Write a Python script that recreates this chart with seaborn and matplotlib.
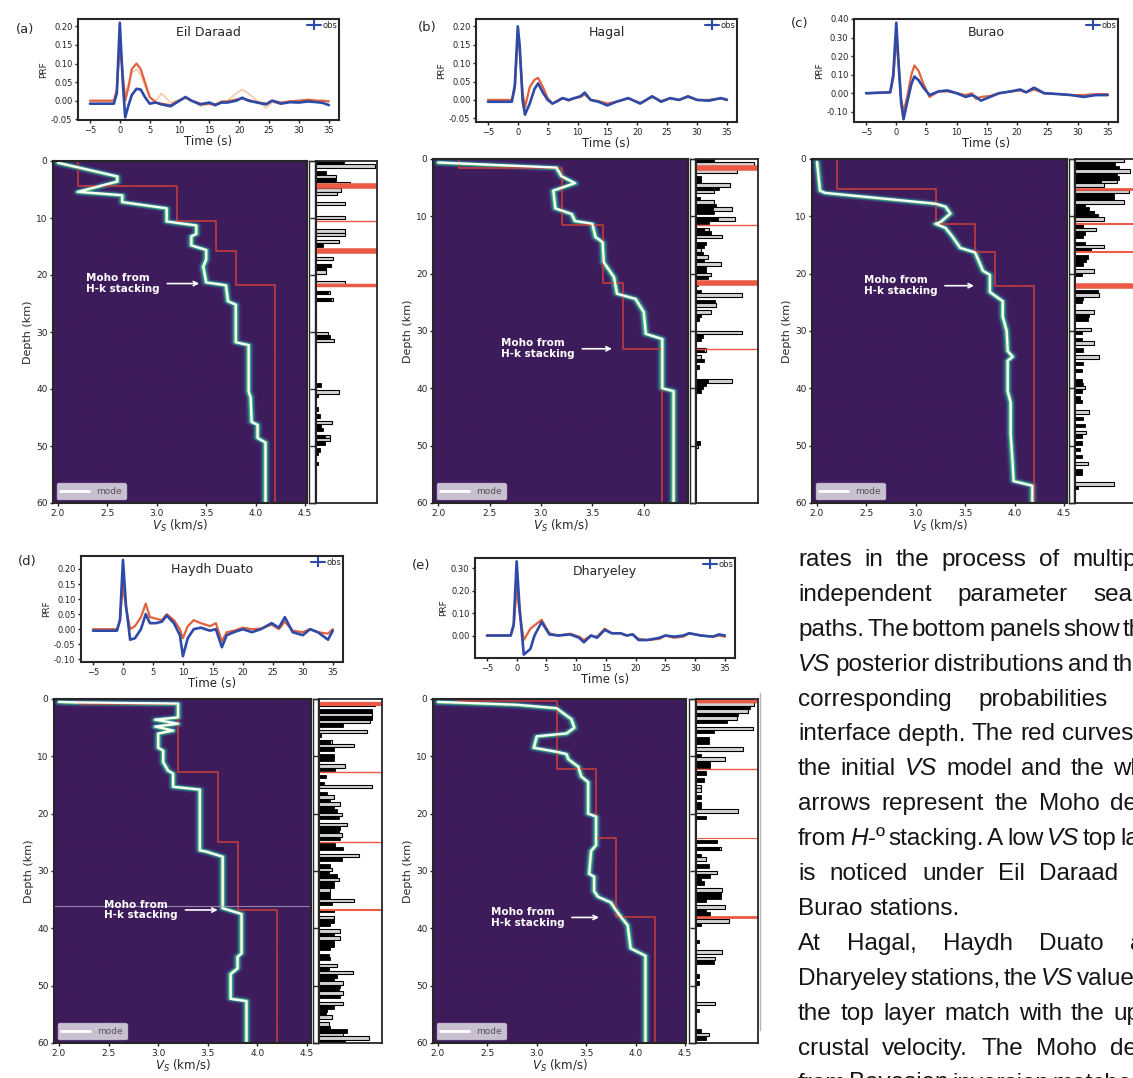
import numpy as np
import pandas as pd
import matplotlib
matplotlib.use("Agg")
import matplotlib.pyplot as plt
import seaborn as sns
from matplotlib.lines import Line2D
from matplotlib.colors import LinearSegmentedColormap
from matplotlib.ticker import FormatStrFormatter

# ---------------------------------------------------------------- data
# (a) Eil Daraad
ed_time = [-5, -1.0, -0.5, 0.0, 0.5, 0.9, 1.5, 2.0, 2.8, 3.5, 4.2, 5.0, 6.0, 7.0, 8.5, 9.5, 11.0, 12.0,
           13.5, 15.0, 16.0, 17.0, 18.0, 19.5, 20.5, 21.5, 23.0, 24.5, 25.5, 27.0, 28.5, 30.0, 31.5, 33.0, 34.0, 35.0]
ed_obs = [-0.008, -0.008, 0.02, 0.21, 0.05, -0.045, -0.01, 0.015, 0.032, 0.03, 0.01, -0.008, -0.005, -0.01,
          -0.015, -0.005, 0.01, 0.0, -0.01, -0.005, -0.012, -0.005, -0.005, 0.0, 0.008, 0.0, -0.005, -0.01,
          0.0, -0.008, -0.004, -0.005, -0.002, -0.004, -0.006, -0.012]
ed_pred = [0.0, 0.0, 0.03, 0.16, 0.07, 0.0, 0.04, 0.085, 0.10, 0.085, 0.05, 0.01, -0.005, -0.008, -0.012,
           -0.003, 0.008, 0.0, -0.008, -0.008, -0.01, -0.003, -0.002, 0.003, 0.006, 0.002, -0.004, -0.008,
           0.0, -0.005, -0.002, 0.0, 0.002, 0.0, 0.0, -0.002]
ed_alt = [0.0, 0.0, 0.03, 0.14, 0.07, 0.02, 0.05, 0.075, 0.085, 0.07, 0.04, 0.01, 0.0, 0.02, -0.005, 0.0,
          0.01, 0.0, -0.015, -0.01, -0.015, 0.0, 0.0, 0.02, 0.03, 0.02, 0.0, -0.02, -0.005, -0.01, 0.0, 0.0,
          0.005, 0.0, 0.0, 0.0]
ed_mode_vs = [2.0, 2.6, 2.6, 2.2, 2.65, 2.65, 3.1, 3.1, 3.4, 3.4, 3.35, 3.35, 3.5, 3.5, 3.47, 3.5, 3.7,
              3.72, 3.8, 3.8, 3.93, 3.93, 3.95, 3.96, 4.02, 4.02, 4.1, 4.1]
ed_mode_dep = [0.3, 2.7, 3.6, 5.4, 6.0, 7.2, 8.3, 10.6, 11.3, 12.8, 13.2, 14.8, 15.6, 17.3, 18.5, 21.3,
               21.8, 24.6, 25.2, 31.8, 32.3, 40.5, 41.5, 45.8, 46.3, 48.6, 49.4, 60.0]
ed_init_bounds = [4.4, 10.6, 15.8, 21.7]
ed_init_vs = [2.2, 3.2, 3.6, 3.8, 4.2]
ed_iface_lw = [4.0, 1.0, 4.0, 2.5]
ed_moho = (21.5, 3.03, 3.43)
ed_gray_dep = [1.0, 2.9, 3.8, 5.3, 5.9, 7.2, 10.0, 12.1, 12.7, 14.0, 17.0, 18.1, 19.6, 21.4, 23.0, 24.3,
               30.0, 31.6, 40.4, 45.7, 48.0, 48.7]
ed_gray_len = [0.99, 0.34, 0.58, 0.42, 0.36, 0.49, 0.49, 0.49, 0.49, 0.38, 0.28, 0.26, 0.17, 0.49, 0.23,
               0.28, 0.20, 0.31, 0.39, 0.27, 0.23, 0.23]
ed_black_dep = [0.4, 2.0, 3.5, 14.6, 18.1, 18.7, 23.0, 24.0, 31.0, 39.5, 41.2, 43.6, 44.8, 46.5, 47.1,
                48.0, 49.5, 50.4, 51.2, 53.0]
ed_black_len = [0.47, 0.17, 0.34, 0.12, 0.23, 0.17, 0.20, 0.26, 0.23, 0.09, 0.04, 0.03, 0.07, 0.09, 0.12,
                0.15, 0.15, 0.07, 0.04, 0.03]

# (b) Hagal
hg_time = [-5, -1.0, -0.5, 0.0, 0.3, 0.8, 1.2, 2.0, 2.8, 3.4, 4.2, 5.0, 5.8, 6.8, 7.5, 8.5, 9.5, 10.5,
           11.2, 12.2, 13.5, 15.0, 16.5, 18.5, 20.5, 22.5, 24.0, 25.5, 27.0, 28.5, 30.0, 32.0, 34.0, 35.0]
hg_obs = [-0.005, -0.005, 0.04, 0.20, 0.15, 0.0, -0.04, -0.01, 0.03, 0.045, 0.02, 0.0, -0.01, -0.002,
          0.005, 0.0, 0.005, 0.01, 0.02, 0.0, -0.005, -0.015, -0.005, 0.005, -0.01, 0.01, -0.005, 0.005,
          0.0, 0.01, 0.0, -0.002, 0.005, 0.0]
hg_pred = [0.0, 0.0, 0.03, 0.18, 0.14, 0.02, -0.02, 0.035, 0.055, 0.06, 0.035, 0.005, -0.01, 0.0, 0.005,
           -0.002, 0.005, 0.008, 0.015, 0.0, -0.003, -0.01, -0.005, 0.004, -0.008, 0.008, -0.003, 0.004,
           0.0, 0.008, 0.0, 0.0, 0.004, 0.002]
hg_mode_vs = [2.0, 3.15, 3.2, 3.33, 3.12, 3.14, 3.3, 3.33, 3.5, 3.53, 3.6, 3.61, 3.71, 3.74, 3.92, 4.0,
              4.02, 4.18, 4.18, 4.29, 4.29]
hg_mode_dep = [0.6, 1.5, 3.0, 4.2, 5.5, 8.6, 9.6, 10.8, 11.3, 13.6, 14.5, 18.0, 20.6, 23.5, 24.4, 26.7,
               30.5, 31.4, 40.0, 40.5, 60.0]
hg_init_bounds = [1.5, 11.5, 21.7, 33.1]
hg_init_vs = [2.2, 3.2, 3.6, 3.8, 4.18]
hg_iface_lw = [4.0, 1.0, 4.0, 1.0]
hg_moho = (33.1, 3.33, 3.69)
hg_gray_dep = [0.8, 2.3, 4.4, 5.7, 7.3, 8.4, 10.2, 12.5, 13.7, 15.7, 16.9, 18.3, 20.3, 23.8, 25.6, 26.7,
               30.2, 33.4, 34.3, 38.9, 50.3]
hg_gray_len = [0.97, 0.68, 0.57, 0.30, 0.30, 0.60, 0.65, 0.22, 0.44, 0.09, 0.20, 0.41, 0.25, 0.76, 0.33,
               0.25, 0.76, 0.17, 0.09, 0.60, 0.04]
hg_black_dep = [0.2, 3.2, 3.8, 5.1, 6.7, 7.9, 8.7, 9.3, 10.7, 11.2, 12.0, 13.1, 14.5, 15.1, 16.3, 17.4,
                18.9, 19.5, 20.9, 22.1, 23.3, 24.7, 25.1, 27.2, 27.9, 31.1, 31.7, 33.0, 34.8, 36.0, 38.4,
                39.4, 39.8, 40.7, 49.4]
hg_black_len = [0.30, 0.09, 0.09, 0.38, 0.06, 0.33, 0.28, 0.30, 0.36, 0.22, 0.14, 0.25, 0.17, 0.14, 0.12,
                0.14, 0.17, 0.17, 0.20, 0.04, 0.09, 0.14, 0.17, 0.09, 0.05, 0.12, 0.09, 0.14, 0.14, 0.05,
                0.20, 0.17, 0.12, 0.09, 0.06]

# (c) Burao
bu_time = [-5, -1.0, -0.5, 0.0, 0.4, 0.8, 1.2, 1.8, 2.5, 3.0, 3.7, 4.5, 5.5, 7.0, 8.5, 10.0, 11.5, 12.5,
           13.2, 14.0, 15.5, 17.0, 19.0, 20.5, 21.5, 22.8, 24.5, 27.0, 29.0, 31.0, 33.0, 35.0]
bu_obs = [0.0, 0.005, 0.10, 0.38, 0.15, -0.05, -0.14, -0.05, 0.05, 0.09, 0.07, 0.03, -0.01, 0.01, 0.015,
          0.0, -0.02, -0.01, -0.02, -0.04, -0.02, 0.0, 0.01, 0.02, 0.005, 0.03, 0.0, -0.005, -0.01, -0.02,
          -0.01, -0.01]
bu_pred = [0.0, 0.005, 0.08, 0.30, 0.15, -0.03, -0.10, -0.02, 0.10, 0.15, 0.12, 0.05, -0.02, 0.01, 0.01,
           0.0, -0.01, 0.0, -0.03, -0.02, -0.015, 0.0, 0.01, 0.015, 0.005, 0.02, 0.0, -0.005, -0.01, -0.01,
           -0.005, -0.005]
bu_mode_vs = [2.0, 2.03, 2.08, 3.2, 3.3, 3.35, 3.25, 3.2, 3.3, 3.37, 3.45, 3.6, 3.63, 3.68, 3.75, 3.75,
              3.88, 3.88, 3.92, 3.93, 3.98, 3.93, 3.93, 3.96, 3.96, 3.98, 3.99, 4.18, 4.18]
bu_mode_dep = [0.5, 5.5, 5.9, 7.8, 8.3, 9.5, 11.0, 11.3, 12.0, 13.5, 15.5, 16.3, 17.5, 19.5, 20.2, 23.2,
               24.8, 27.5, 30.0, 33.5, 34.5, 35.2, 40.5, 42.5, 48.0, 53.0, 56.2, 57.0, 60.0]
bu_init_bounds = [5.2, 11.4, 16.3, 22.1]
bu_init_vs = [2.2, 3.2, 3.6, 3.8, 4.2]
bu_iface_lw = [2.0, 1.5, 1.5, 4.0]
bu_moho = (22.1, 3.22, 3.59)
bu_gray_dep = [0.3, 2.0, 3.8, 4.7, 5.7, 7.3, 9.0, 10.5, 12.2, 15.4, 19.2, 23.6, 26.5, 29.4, 32.3, 34.4,
               39.6, 44.3, 47.5, 53.3, 56.5]
bu_gray_len = [0.81, 0.91, 0.70, 0.48, 0.89, 0.81, 0.32, 0.48, 0.35, 0.48, 0.32, 0.40, 0.32, 0.27, 0.32,
               0.40, 0.16, 0.24, 0.19, 0.22, 0.65]
bu_black_dep = [0.9, 1.5, 2.6, 3.2, 4.1, 6.3, 6.9, 7.9, 8.4, 9.3, 9.9, 11.6, 13.1, 13.7, 14.6, 15.9, 16.9,
                17.5, 18.3, 19.8, 23.0, 24.2, 25.0, 27.4, 28.0, 30.3, 31.2, 33.2, 35.5, 36.7, 38.4, 39.0,
                40.5, 41.4, 42.5, 45.4, 46.3, 48.3, 49.5, 50.7, 51.8, 54.2, 55.0, 57.4]
bu_black_len = [0.67, 0.73, 0.70, 0.73, 0.43, 0.65, 0.65, 0.16, 0.24, 0.30, 0.38, 0.13, 0.16, 0.13, 0.16,
                0.27, 0.22, 0.19, 0.13, 0.11, 0.38, 0.13, 0.11, 0.24, 0.22, 0.11, 0.11, 0.13, 0.13, 0.11,
                0.11, 0.13, 0.11, 0.08, 0.11, 0.13, 0.16, 0.11, 0.11, 0.08, 0.11, 0.11, 0.11, 0.05]

# (d) Haydh Duato
hd_time = [-5, -1.0, -0.5, 0.0, 0.5, 1.2, 2.0, 3.0, 3.8, 4.5, 5.5, 6.5, 7.3, 8.5, 9.5, 10.0, 10.8, 11.8,
           13.0, 14.5, 15.5, 16.5, 17.3, 18.5, 20.0, 21.5, 23.0, 24.8, 26.0, 27.0, 28.3, 30.0, 31.2, 32.5,
           34.2, 35.0]
hd_obs = [-0.005, -0.005, 0.03, 0.23, 0.08, -0.035, -0.03, 0.0, 0.05, 0.02, 0.02, 0.025, 0.045, 0.02,
          -0.02, -0.09, -0.03, 0.0, 0.005, -0.005, 0.0, -0.06, -0.02, -0.01, 0.0, -0.01, 0.0, 0.02, 0.005,
          0.04, -0.01, -0.02, 0.0, -0.01, -0.035, -0.005]
hd_pred = [0.0, 0.0, 0.03, 0.15, 0.07, 0.0, 0.01, 0.04, 0.085, 0.04, 0.035, 0.03, 0.05, 0.03, 0.0, -0.03,
           0.01, 0.03, 0.02, 0.01, 0.02, -0.04, -0.01, -0.005, 0.005, 0.0, 0.002, 0.015, 0.0, 0.025, -0.005,
           -0.01, 0.0, -0.01, -0.015, 0.0]
hd_mode_vs = [2.0, 2.2, 3.2, 3.2, 2.97, 3.2, 2.97, 3.15, 3.0, 3.0, 3.05, 3.05, 3.1, 3.15, 3.15, 3.42, 3.42,
              3.48, 3.65, 3.65, 3.84, 3.84, 3.8, 3.8, 3.73, 3.73, 3.89, 3.89]
hd_mode_dep = [0.5, 0.6, 0.8, 3.2, 3.6, 4.3, 4.8, 5.5, 6.0, 8.5, 9.0, 11.0, 12.5, 13.0, 15.3, 15.8, 26.4,
               26.6, 27.5, 36.5, 37.5, 44.4, 45.0, 47.0, 48.0, 52.3, 52.7, 60.0]
hd_init_bounds = [0.8, 12.7, 24.9, 36.8]
hd_init_vs = [2.2, 3.2, 3.6, 3.8, 4.2]
hd_iface_lw = [3.0, 1.0, 1.0, 1.5]
hd_moho = (36.8, 3.2, 3.6)
hd_gray_dep = [1.0, 2.5, 3.7, 5.4, 7.2, 8.3, 11.4, 15.3, 17.1, 18.2, 20.0, 21.7, 23.5, 27.0, 29.9, 31.6,
               33.4, 35.1, 38.0, 40.3, 41.5, 46.2, 47.6, 49.4, 51.1, 52.9, 55.5, 56.6, 58.4, 59.3]
hd_gray_len = [0.92, 0.87, 0.84, 0.79, 0.21, 0.58, 0.42, 0.87, 0.24, 0.34, 0.37, 0.45, 0.37, 0.66, 0.21,
               0.32, 0.18, 0.58, 0.24, 0.34, 0.34, 0.29, 0.55, 0.39, 0.39, 0.39, 0.21, 0.16, 0.39, 0.82]
hd_black_dep = [1.9, 3.1, 4.2, 6.0, 7.7, 8.9, 9.8, 10.7, 12.0, 13.6, 14.4, 16.2, 17.7, 18.8, 19.4, 20.6,
                22.4, 23.0, 24.3, 25.5, 26.1, 27.6, 28.1, 29.0, 30.5, 31.0, 32.2, 32.8, 34.0, 34.6, 35.7,
                37.1, 38.6, 39.2, 40.9, 42.1, 42.7, 43.5, 44.4, 45.3, 46.8, 48.2, 48.8, 50.0, 50.6, 51.7,
                53.6, 54.2, 55.0, 57.5, 58.0, 59.9]
hd_black_len = [0.87, 0.86, 0.39, 0.04, 0.18, 0.24, 0.24, 0.24, 0.26, 0.11, 0.08, 0.13, 0.18, 0.24, 0.29,
                0.32, 0.34, 0.32, 0.34, 0.26, 0.39, 0.29, 0.08, 0.18, 0.16, 0.29, 0.24, 0.24, 0.18, 0.18,
                0.21, 0.24, 0.24, 0.18, 0.24, 0.24, 0.24, 0.18, 0.16, 0.18, 0.16, 0.29, 0.24, 0.34, 0.32,
                0.34, 0.24, 0.13, 0.11, 0.18, 0.45, 0.42]

# (e) Dharyeley
dh_time = [-5, -1.0, -0.5, 0.0, 0.5, 1.2, 2.3, 3.0, 4.2, 5.5, 7.0, 9.0, 10.5, 11.3, 12.5, 13.5, 14.8, 16.0,
           17.5, 18.5, 19.5, 20.5, 22.0, 24.0, 25.0, 26.5, 28.0, 29.0, 31.0, 33.0, 34.0, 35.0]
dh_obs = [0.0, 0.0, 0.05, 0.33, 0.12, -0.085, -0.06, 0.0, 0.06, 0.005, 0.0, 0.005, -0.01, -0.03, 0.0,
          -0.01, 0.025, 0.01, 0.01, 0.0, 0.005, -0.02, -0.02, -0.01, 0.0, -0.005, 0.0, 0.01, 0.0, -0.005,
          0.005, 0.0]
dh_pred = [0.0, 0.0, 0.04, 0.21, 0.1, -0.02, 0.03, 0.045, 0.07, 0.01, 0.0, 0.008, -0.005, -0.02, 0.0,
           -0.005, 0.03, 0.01, 0.01, 0.0, 0.005, -0.015, -0.02, -0.015, 0.0, -0.01, -0.005, 0.01, 0.0,
           -0.005, 0.0, -0.005]
dh_mode_vs = [2.0, 2.8, 3.2, 3.35, 3.38, 3.3, 3.0, 2.97, 3.2, 3.3, 3.32, 3.42, 3.45, 3.52, 3.52, 3.6, 3.6,
              3.55, 3.53, 3.58, 3.58, 3.62, 3.75, 3.82, 3.92, 3.95, 4.1, 4.1]
dh_mode_dep = [0.5, 1.0, 1.6, 3.5, 5.0, 6.0, 6.5, 8.5, 9.2, 9.6, 10.5, 11.8, 13.5, 14.5, 20.0, 20.5, 25.5,
               26.5, 30.5, 31.0, 33.5, 34.5, 35.5, 37.3, 39.5, 43.5, 44.8, 60.0]
dh_init_bounds = [0.3, 12.2, 24.3, 38.1]
dh_init_vs = [2.2, 3.2, 3.6, 3.8, 4.2]
dh_iface_lw = [2.5, 1.0, 0.8, 2.0]
dh_moho = (38.1, 3.28, 3.63)
dh_gray_dep = [0.9, 2.3, 3.5, 5.2, 8.4, 10.5, 15.1, 16.0, 19.5, 25.9, 27.7, 30.0, 33.2, 36.4, 38.4, 44.3,
               45.4, 53.3, 58.5]
dh_gray_len = [0.97, 0.86, 0.68, 0.95, 0.78, 0.49, 0.08, 0.08, 0.70, 0.41, 0.16, 0.35, 0.43, 0.49, 0.54,
               0.43, 0.32, 0.32, 0.22]
dh_black_dep = [0.3, 1.7, 2.9, 4.1, 5.8, 6.7, 7.6, 9.6, 11.1, 11.9, 13.1, 14.0, 16.9, 18.1, 18.9, 20.4,
                25.0, 26.2, 27.1, 29.1, 30.6, 31.2, 32.0, 33.8, 34.4, 35.2, 36.9, 37.3, 39.0, 42.5, 45.9,
                48.0, 49.2, 54.2, 57.7, 59.1]
dh_black_len = [0.95, 0.89, 0.70, 0.51, 0.30, 0.22, 0.22, 0.08, 0.24, 0.24, 0.16, 0.14, 0.08, 0.08, 0.08,
                0.16, 0.35, 0.38, 0.08, 0.22, 0.24, 0.08, 0.14, 0.41, 0.41, 0.16, 0.16, 0.24, 0.08, 0.05,
                0.30, 0.05, 0.05, 0.05, 0.08, 0.16]

prf_ticks_small = [-0.05, 0.0, 0.05, 0.10, 0.15, 0.20]
prf_ticks_burao = [-0.10, 0.0, 0.10, 0.20, 0.30, 0.40]
prf_ticks_hd = [-0.10, -0.05, 0.0, 0.05, 0.10, 0.15, 0.20]
prf_ticks_dh = [0.0, 0.10, 0.20, 0.30]

# ---------------------------------------------------------------- layout
W, H = 1133, 1078
sns.set_theme(style="ticks")
plt.rcParams["font.family"] = ["DejaVu Sans"]
plt.rcParams["axes.linewidth"] = 1.5

BLUE = "#2d4aa8"
RED = "#e2623c"
RED_INIT = "#cc3f3a"
RED_HIST = "#ec5a45"
cmap = LinearSegmentedColormap.from_list(
    "post", ["#3e1c5b", "#3b4f8c", "#23a186", "#7ad151", "#fde725"])

fig = plt.figure(figsize=(W / 100, H / 100), dpi=100)


def rect(l, t, r, b):
    return [l / W, 1 - b / H, (r - l) / W, (b - t) / H]


def step_profile(bounds, vs):
    d, v = [0.0], [vs[0]]
    for b, v0, v1 in zip(bounds, vs[:-1], vs[1:]):
        d += [b, b]
        v += [v0, v1]
    d.append(60.0)
    v.append(vs[-1])
    return v, d


def posterior_density(mode_vs, mode_dep, v_axis, d_axis, sv=0.022, sd=0.28):
    V, D = np.meshgrid(v_axis, d_axis)
    P = np.stack([V / sv, D / sd], -1)
    pts = np.column_stack([np.asarray(mode_vs) / sv, np.asarray(mode_dep) / sd])
    best = np.full(V.shape, np.inf)
    for p0, p1 in zip(pts[:-1], pts[1:]):
        seg = p1 - p0
        L2 = float((seg ** 2).sum())
        if L2 > 0:
            t = np.clip(((P - p0) @ seg) / L2, 0, 1)
        else:
            t = np.zeros(V.shape)
        proj = p0 + t[..., None] * seg
        best = np.minimum(best, ((P - proj) ** 2).sum(-1))
    return np.exp(-0.5 * best)


stations = [
    dict(tag="(a)", name="Eil Daraad", time=ed_time, obs=ed_obs, pred=ed_pred, alt=ed_alt,
         yticks=prf_ticks_small, ylim=(-0.052, 0.22),
         mode=(ed_mode_vs, ed_mode_dep), init=(ed_init_bounds, ed_init_vs), iface_lw=ed_iface_lw,
         moho=ed_moho, gray=(ed_gray_dep, ed_gray_len), black=(ed_black_dep, ed_black_len),
         prf_box=(78, 19, 339, 120), heat_box=(53, 161, 307, 503), nar_box=(309, 161, 315, 503),
         hist_box=(316, 161, 377, 503), vlim=(1.95, 4.52), tag_xy=(25, 29)),
    dict(tag="(b)", name="Hagal", time=hg_time, obs=hg_obs, pred=hg_pred, alt=None,
         yticks=prf_ticks_small, ylim=(-0.06, 0.22),
         mode=(hg_mode_vs, hg_mode_dep), init=(hg_init_bounds, hg_init_vs), iface_lw=hg_iface_lw,
         moho=hg_moho, gray=(hg_gray_dep, hg_gray_len), black=(hg_black_dep, hg_black_len),
         prf_box=(476, 19, 737, 122), heat_box=(433, 159, 688, 503), nar_box=(690, 159, 695, 503),
         hist_box=(696, 159, 758, 503), vlim=(1.95, 4.43), tag_xy=(427, 27)),
    dict(tag="(c)", name="Burao", time=bu_time, obs=bu_obs, pred=bu_pred, alt=None,
         yticks=prf_ticks_burao, ylim=(-0.155, 0.40),
         mode=(bu_mode_vs, bu_mode_dep), init=(bu_init_bounds, bu_init_vs), iface_lw=bu_iface_lw,
         moho=bu_moho, gray=(bu_gray_dep, bu_gray_len), black=(bu_black_dep, bu_black_len),
         prf_box=(854, 19, 1118, 122), heat_box=(812, 159, 1067, 503), nar_box=(1069, 159, 1074, 503),
         hist_box=(1075, 159, 1137, 503), vlim=(1.95, 4.53), tag_xy=(800, 24)),
    dict(tag="(d)", name="Haydh Duato", time=hd_time, obs=hd_obs, pred=hd_pred, alt=None,
         yticks=prf_ticks_hd, ylim=(-0.109, 0.243),
         mode=(hd_mode_vs, hd_mode_dep), init=(hd_init_bounds, hd_init_vs), iface_lw=hd_iface_lw,
         moho=hd_moho, gray=(hd_gray_dep, hd_gray_len), black=(hd_black_dep, hd_black_len),
         prf_box=(81, 556, 343, 662), heat_box=(54, 699, 311, 1043), nar_box=(313, 699, 318, 1043),
         hist_box=(319, 699, 382, 1043), vlim=(1.95, 4.54), tag_xy=(27, 561)),
    dict(tag="(e)", name="Dharyeley", time=dh_time, obs=dh_obs, pred=dh_pred, alt=None,
         yticks=prf_ticks_dh, ylim=(-0.10, 0.345),
         mode=(dh_mode_vs, dh_mode_dep), init=(dh_init_bounds, dh_init_vs), iface_lw=dh_iface_lw,
         moho=dh_moho, gray=(dh_gray_dep, dh_gray_len), black=(dh_black_dep, dh_black_len),
         prf_box=(475, 558, 735, 658), heat_box=(433, 699, 686, 1043), nar_box=(689, 699, 695, 1043),
         hist_box=(696, 699, 758, 1043), vlim=(1.95, 4.51), tag_xy=(421, 566)),
]

v_axis = np.linspace(1.9, 4.6, 541)
d_axis = np.linspace(0, 60, 481)

for st in stations:
    # ---- receiver function panel
    axp = fig.add_axes(rect(*st["prf_box"]))
    if st["alt"] is not None:
        sns.lineplot(x=st["time"], y=st["alt"], ax=axp, color="#f6c29a", lw=1.0,
                     sort=False, estimator=None)
    sns.lineplot(x=st["time"], y=st["pred"], ax=axp, color=RED, lw=1.6, sort=False, estimator=None)
    sns.lineplot(x=st["time"], y=st["obs"], ax=axp, color=BLUE, lw=1.9, sort=False, estimator=None)
    axp.set_xlim(-7, 36.7)
    axp.set_ylim(*st["ylim"])
    axp.set_xticks(range(-5, 36, 5))
    axp.set_yticks(st["yticks"])
    axp.yaxis.set_major_formatter(FormatStrFormatter("%.2f"))
    axp.tick_params(labelsize=6, length=2.5, width=1, pad=1.5, colors="#222222")
    axp.set_xlabel("Time (s)", fontsize=8.5, labelpad=0)
    axp.set_ylabel("PRF", fontsize=6.5, labelpad=2)
    axp.text(0.5, 0.93, st["name"], transform=axp.transAxes, ha="center", va="top", fontsize=9)
    obs_handle = Line2D([], [], color=BLUE, lw=1.5, marker="+", markersize=7, mew=1.5)
    axp.legend([obs_handle], ["obs"], loc="upper right", frameon=False, fontsize=6,
               handlelength=1.6, handletextpad=0.2, borderaxespad=0.1, borderpad=0.1)
    fig.text(st["tag_xy"][0] / W, 1 - st["tag_xy"][1] / H, st["tag"], fontsize=9.5,
             ha="center", va="center")

    # ---- posterior Vs panel
    axh = fig.add_axes(rect(*st["heat_box"]))
    dens = posterior_density(st["mode"][0], st["mode"][1], v_axis, d_axis)
    axh.imshow(dens, extent=[v_axis[0], v_axis[-1], 60, 0], aspect="auto", cmap=cmap,
               vmin=0, vmax=1.25, origin="upper", interpolation="bilinear")
    iv, idp = step_profile(*st["init"])
    sns.lineplot(x=iv, y=idp, ax=axh, color=RED_INIT, lw=1.1, sort=False, estimator=None)
    sns.lineplot(x=st["mode"][0], y=st["mode"][1], ax=axh, color="white", lw=1.6,
                 sort=False, estimator=None)
    if st["tag"] == "(d)":
        axh.axhline(36.1, color="#a9a1c2", lw=0.8, alpha=0.8)
    axh.set_xlim(*st["vlim"])
    axh.set_ylim(60, 0)
    axh.set_xticks(np.arange(2.0, st["vlim"][1] + 0.01, 0.5))
    axh.xaxis.set_major_formatter(FormatStrFormatter("%.1f"))
    axh.set_yticks(range(0, 61, 10))
    axh.tick_params(labelsize=6.5, length=2.5, width=1, pad=1.5, colors="#222222")
    axh.set_xlabel(r"$V_S$ (km/s)", fontsize=8.5, labelpad=0)
    axh.set_ylabel("Depth (km)", fontsize=8, labelpad=2)
    mode_handle = Line2D([], [], color="white", lw=2)
    axh.legend([mode_handle], ["mode"], loc="lower left", fontsize=6.5, frameon=True,
               facecolor="white", framealpha=0.72, edgecolor="#d8d0e0", handlelength=3.2,
               borderaxespad=0.4, labelcolor="#555555", fancybox=True)
    md, tv, hv = st["moho"]
    axh.annotate("Moho from\nH-k stacking", xy=(hv, md), xytext=(tv, md), ha="right", va="center",
                 multialignment="left", color="white", fontsize=7.5, fontweight="bold",
                 linespacing=1.1,
                 arrowprops=dict(arrowstyle="->", color="white", lw=1.2, shrinkA=3, shrinkB=0))

    # ---- spacer strip
    axn = fig.add_axes(rect(*st["nar_box"]))
    axn.set_xticks([])
    axn.set_yticks([])
    for s in axn.spines.values():
        s.set_linewidth(1.0)

    # ---- interface-depth histogram
    axb = fig.add_axes(rect(*st["hist_box"]))
    gray_df = pd.DataFrame({"depth": st["gray"][0], "prob": st["gray"][1]})
    black_df = pd.DataFrame({"depth": st["black"][0], "prob": st["black"][1]})
    sns.histplot(data=gray_df, y="depth", weights="prob", binwidth=0.6, binrange=(0, 60), ax=axb,
                 color="#d3d3d3", edgecolor="black", linewidth=0.8, alpha=1)
    sns.histplot(data=black_df, y="depth", weights="prob", binwidth=0.6, binrange=(0, 60), ax=axb,
                 color="black", edgecolor="black", linewidth=0.6, alpha=1)
    for b, lw in zip(st["init"][0], st["iface_lw"]):
        axb.axhline(b, color=RED_HIST, lw=lw)
    axb.set_xlim(0, 1.03)
    axb.set_ylim(60, 0)
    axb.set_xticks([])
    axb.set_yticks(range(0, 61, 10))
    axb.set_yticklabels([])
    axb.tick_params(axis="y", direction="out", length=4.2, width=1.0)
    for s in axb.spines.values():
        s.set_linewidth(1.3)
    axb.set_xlabel("")
    axb.set_ylabel("")

# ---------------------------------------------------------------- body text
fig.add_artist(Line2D([760 / W, 760 / W], [1 - 693 / H, 1 - 1030 / H], color="#b5b5b5", lw=1,
                      transform=fig.transFigure))

BODY_FS = 17.5
body_family = ["Liberation Sans", "DejaVu Sans"]
body_lines = [
    ("rates in the process of multiple", (5, 1072)),
    ("independent parameter search", (2, 1093)),
    ("paths. The bottom panels show the", (4, 1062)),
    ("~VS posterior distributions and the", (3, 1068)),
    ("corresponding probabilities of", (1, 978)),
    ("interface depth. The red curves are", (4, 1062)),
    ("the initial ~VS model and the white", (6, 1113)),
    ("arrows represent the Moho depth", (4, 1110)),
    ("from ~H-|º stacking. A low ~VS top layer", (7, 1120)),
    ("is noticed under Eil Daraad and", (4, 1039)),
    ("Burao stations.", None),
    ("At Hagal, Haydh Duato and", (4, 1130)),
    ("Dharyeley stations, the ~VS values of", (4, 1077)),
    ("the top layer match with the upper", (6, 1113)),
    ("crustal velocity. The Moho depth", (4, 1110)),
    ("from Bayesian inversion matches", (3, 1050)),
]
renderer = fig.canvas.get_renderer()
space_px = BODY_FS * 100 / 72 * 0.278
x0 = 798
for i, (line, anchor) in enumerate(body_lines):
    y = 566.0 + i * 34.9
    words = []
    for tok in line.split(" "):
        segs = []
        for seg in tok.split("|"):
            italic = seg.startswith("~")
            txt = seg[1:] if italic else seg
            t = fig.text(0, 0, txt, fontsize=BODY_FS, family=body_family,
                         style="italic" if italic else "normal", ha="left", va="baseline",
                         color="#151515")
            segs.append((t, t.get_window_extent(renderer).width))
        words.append(segs)
    widths = [sum(w for _, w in segs) for segs in words]
    if anchor is None:
        gap = space_px
    else:
        k, xa = anchor
        gap = (xa - x0 - sum(widths[:k])) / k
        gap = max(gap, space_px * 0.45)
    x = x0
    for segs, w in zip(words, widths):
        xs = x
        for t, sw in segs:
            t.set_position((xs / W, 1 - y / H))
            xs += sw
        x += w + gap

fig.savefig("out.png", dpi=100)
